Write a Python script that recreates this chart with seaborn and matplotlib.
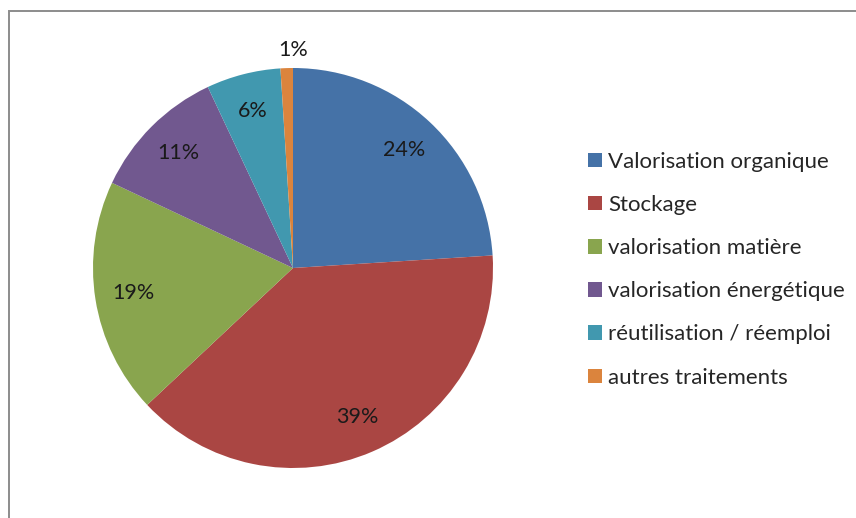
import matplotlib
matplotlib.use("Agg")
import matplotlib.pyplot as plt
from matplotlib.patches import Patch, Rectangle
import seaborn as sns

categories = [
    "Valorisation organique",
    "Stockage",
    "valorisation matière",
    "valorisation énergétique",
    "réutilisation / réemploi",
    "autres traitements",
]
shares = [24, 39, 19, 11, 6, 1]
slice_colors = ["#4572A7", "#AA4643", "#89A54E", "#71588F", "#4198AF", "#DB843D"]

sns.set_theme(style="white")
plt.rcParams["font.family"] = ["Lato", "DejaVu Sans"]
palette = sns.color_palette(slice_colors)

W, H = 856, 518
fig = plt.figure(figsize=(W / 100, H / 100), dpi=100)
fig.patch.set_facecolor("white")

# pie area: centre (293, 268), radius 200 px
cx, cy, r = 293, 268, 200
ax = fig.add_axes([(cx - r) / W, (H - cy - r) / H, 2 * r / W, 2 * r / H])
wedges, texts, autotexts = ax.pie(
    shares,
    colors=palette,
    startangle=90,
    counterclock=False,
    autopct=lambda p: f"{p:.0f}%",
    pctdistance=0.81,
    wedgeprops=dict(linewidth=0),
    textprops=dict(fontsize=15.5, color="#1a1a1a"),
)
# the smallest slice keeps its label outside the disc
autotexts[-1].set_position((0.0, 1.09))
ax.set_xlim(-1, 1)
ax.set_ylim(-1, 1)
ax.set_aspect("equal")
ax.axis("off")

handles = [Patch(facecolor=c, edgecolor="none") for c in palette]
fig.legend(
    handles,
    categories,
    loc="upper left",
    bbox_to_anchor=(588 / W, 1 - 152 / H),
    frameon=False,
    fontsize=16,
    handlelength=0.62,
    handleheight=0.62,
    handletextpad=0.3,
    labelspacing=1.04,
    borderaxespad=0,
    borderpad=0,
)

# chart frame (open on the right and bottom edges)
fig.add_artist(Rectangle((9 / W, -0.1), 1.2, 1.1 - 11 / H, transform=fig.transFigure,
                         fill=False, edgecolor="#8c8c8c", linewidth=1.4))

fig.savefig("out.png", dpi=100)
